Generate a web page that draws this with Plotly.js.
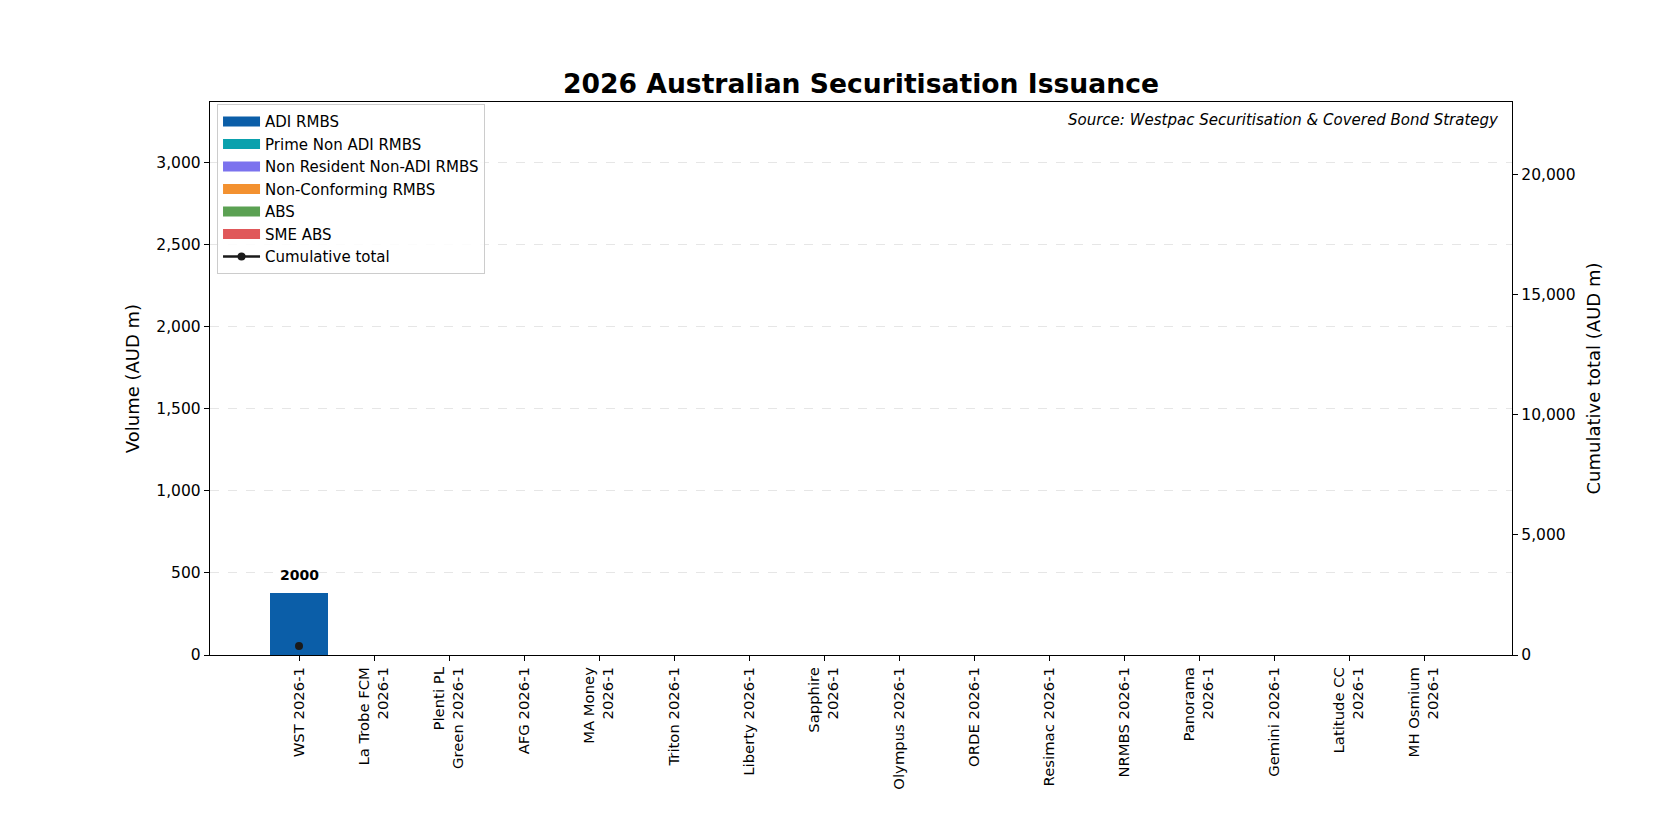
<!DOCTYPE html>
<html>
<head>
<meta charset="utf-8">
<script src="https://cdn.plot.ly/plotly-3.0.1.min.js"></script>
<style>html,body{margin:0;padding:0;background:#fff;}#chart{width:1680px;height:840px;}</style>
</head>
<body>
<div id="chart"></div>
<script>
const categories = ["WST 2026-1", "La Trobe FCM<br>2026-1", "Plenti PL<br>Green 2026-1", "AFG 2026-1", "MA Money<br>2026-1", "Triton 2026-1", "Liberty 2026-1", "Sapphire<br>2026-1", "Olympus 2026-1", "ORDE 2026-1", "Resimac 2026-1", "NRMBS 2026-1", "Panorama<br>2026-1", "Gemini 2026-1", "Latitude CC<br>2026-1", "MH Osmium<br>2026-1"];
const adiRmbs        = [375, 0, 0, 0, 0, 0, 0, 0, 0, 0, 0, 0, 0, 0, 0, 0];
const primeNonAdi    = [0, 0, 0, 0, 0, 0, 0, 0, 0, 0, 0, 0, 0, 0, 0, 0];
const nonResident    = [0, 0, 0, 0, 0, 0, 0, 0, 0, 0, 0, 0, 0, 0, 0, 0];
const nonConforming  = [0, 0, 0, 0, 0, 0, 0, 0, 0, 0, 0, 0, 0, 0, 0, 0];
const abs            = [0, 0, 0, 0, 0, 0, 0, 0, 0, 0, 0, 0, 0, 0, 0, 0];
const smeAbs         = [0, 0, 0, 0, 0, 0, 0, 0, 0, 0, 0, 0, 0, 0, 0, 0];
const cumulativeCats = ["WST 2026-1"];
const cumulative     = [375];
const barLabelCats   = ["WST 2026-1"];
const barLabelValues = [375];
const barLabelTexts  = ["2000"];

const seriesNames  = ["ADI RMBS", "Prime Non ADI RMBS", "Non Resident Non-ADI RMBS", "Non-Conforming RMBS", "ABS", "SME ABS"];
const seriesData   = [adiRmbs, primeNonAdi, nonResident, nonConforming, abs, smeAbs];
const seriesColors = ["#0b5ea8", "#0aa1ad", "#7b72ee", "#f39130", "#5ba153", "#e0585a"];

const font = "DejaVu Sans, sans-serif";
const traces = [];
seriesNames.forEach((n, i) => {
  traces.push({
    type: "bar", name: n, x: categories, y: seriesData[i], showlegend: false, legendgroup: "g" + i,
    marker: {color: seriesColors[i], line: {width: 0}}, width: 0.78
  });
});
// legend swatches (matplotlib-style wide rectangles)
seriesNames.forEach((n, i) => {
  traces.push({
    type: "scatter", mode: "lines", name: n, x: [null], y: [null], legendgroup: "g" + i,
    line: {color: seriesColors[i], width: 12}, hoverinfo: "skip"
  });
});
traces.push({
  type: "scatter", mode: "lines+markers", name: "Cumulative total", legendgroup: "gc",
  x: cumulativeCats, y: cumulative, yaxis: "y2",
  line: {color: "#1a1a1a", width: 2.5}, marker: {color: "#1a1a1a", size: 8}
});

const annotations = barLabelCats.map((c, i) => ({
  x: c, y: barLabelValues[i], xref: "x", yref: "y", text: "<b>" + barLabelTexts[i] + "</b>",
  showarrow: false, yanchor: "bottom", yshift: 8, font: {family: font, size: 14, color: "#000"}
}));
annotations.push({
  xref: "paper", yref: "paper", x: 0.9915, y: 0.987, xanchor: "right", yanchor: "top",
  text: "<i>Source: Westpac Securitisation &amp; Covered Bond Strategy</i>", showarrow: false,
  font: {family: font, size: 15, color: "#000"}
});

const layout = {
  width: 1680, height: 840,
  margin: {l: 210, r: 168, t: 102, b: 185, pad: 0},
  paper_bgcolor: "#fff", plot_bgcolor: "#fff",
  font: {family: font, color: "#000"},
  title: {text: "<b>2026 Australian Securitisation Issuance</b>", font: {family: font, size: 26.6, color: "#000"},
          x: 0.5125, xanchor: "center", y: 0.9, yanchor: "middle"},
  barmode: "stack",
  showlegend: true,
  legend: {x: 0.0054, y: 0.996, xanchor: "left", yanchor: "top", bgcolor: "rgba(255,255,255,0.85)",
           bordercolor: "#cccccc", borderwidth: 1, font: {family: font, size: 15}, traceorder: "normal",
           itemwidth: 37, tracegroupgap: 0},
  xaxis: {type: "category", range: [-1.187, 16.173], showline: true, linecolor: "#000", linewidth: 1.2,
          mirror: true, ticks: "outside", ticklen: 5, tickcolor: "#000", tickangle: -90,
          tickfont: {family: font, size: 14.8, color: "#000"}, showgrid: false, zeroline: false},
  yaxis: {range: [0, 3367], dtick: 500, tickformat: ",", showline: true, linecolor: "#000", linewidth: 1.2,
          ticks: "outside", ticklen: 5, tickcolor: "#000", tickfont: {family: font, size: 15.5, color: "#000"},
          showgrid: true, gridcolor: "#e6e6e6", griddash: "dash", gridwidth: 1, zeroline: false,
          title: {text: "Volume (AUD m)", font: {family: font, size: 18, color: "#000"}, standoff: 12}},
  yaxis2: {range: [0, 23040], dtick: 5000, tickformat: ",", overlaying: "y", side: "right", showline: true,
           linecolor: "#000", linewidth: 1.2, ticks: "outside", ticklen: 5, tickcolor: "#000",
           tickfont: {family: font, size: 15.5, color: "#000"}, showgrid: false, zeroline: false,
           title: {text: "Cumulative total (AUD m)", font: {family: font, size: 18, color: "#000"}, standoff: 12}},
  annotations: annotations
};

Plotly.newPlot("chart", traces, layout, {displayModeBar: false, staticPlot: true});
</script>
</body>
</html>
